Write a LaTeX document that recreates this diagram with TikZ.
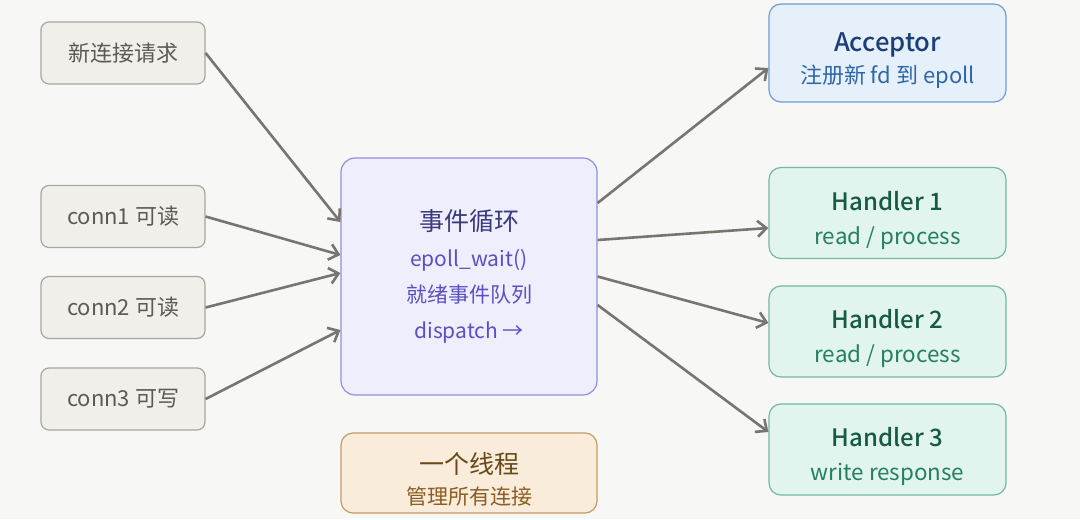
\documentclass[tikz,border=0pt]{standalone}
\usepackage{fontspec}
\setmainfont{Noto Sans CJK SC}[BoldFont={Noto Sans CJK SC Medium}]
\usetikzlibrary{arrows.meta}

\definecolor{bgpaper}{HTML}{F7F7F5}
\definecolor{srcfill}{HTML}{F1EFE9}
\definecolor{srcline}{HTML}{A9A69E}
\definecolor{srctext}{HTML}{5B5A55}
\definecolor{loopfill}{HTML}{EEEEFC}
\definecolor{loopline}{HTML}{9590DC}
\definecolor{looptitle}{HTML}{3C3A7E}
\definecolor{looptext}{HTML}{5A50C2}
\definecolor{thrfill}{HTML}{F9ECDA}
\definecolor{thrline}{HTML}{C29C62}
\definecolor{thrtitle}{HTML}{6A4818}
\definecolor{thrtext}{HTML}{8C5C22}
\definecolor{accfill}{HTML}{E6F0FB}
\definecolor{accline}{HTML}{6C9DD3}
\definecolor{acctitle}{HTML}{1B3F76}
\definecolor{acctext}{HTML}{2F66AA}
\definecolor{hdlfill}{HTML}{E2F4EE}
\definecolor{hdlline}{HTML}{72B9A1}
\definecolor{hdltitle}{HTML}{155A45}
\definecolor{hdltext}{HTML}{24805F}
\definecolor{linkgray}{HTML}{77756F}

% pushes a two-line block a little down in its box
\newcommand{\tstrut}{\rule{0pt}{17pt}}

\begin{document}
\begin{tikzpicture}[x=0.5pt, y=-0.5pt,
  box/.style={draw, line width=0.6pt, align=center, inner sep=0pt},
  srcbox/.style={box, rounded corners=4pt, fill=srcfill, draw=srcline, text=srctext,
    minimum width=82pt, minimum height=31pt, font=\fontsize{11}{13}\selectfont},
  loopbox/.style={box, rounded corners=7pt, fill=loopfill, draw=loopline, text=looptext,
    minimum width=128pt, minimum height=118.5pt, font=\fontsize{10.5}{18}\selectfont},
  thrbox/.style={box, rounded corners=6pt, fill=thrfill, draw=thrline, text=thrtext,
    minimum width=128pt, minimum height=40pt, font=\fontsize{10.5}{15.5}\selectfont},
  accbox/.style={box, rounded corners=6pt, fill=accfill, draw=accline, text=acctext,
    minimum width=118.5pt, minimum height=49pt, font=\fontsize{11}{16}\selectfont},
  hdlbox/.style={box, rounded corners=6pt, fill=hdlfill, draw=hdlline, text=hdltext,
    minimum width=118.5pt, minimum height=45.5pt, font=\fontsize{11.2}{17}\selectfont},
  link/.style={-{Straight Barb[length=4.5pt,width=8pt]}, line width=1.3pt, draw=linkgray}]

  \fill[bgpaper] (0,0) rectangle (1080,519);
  \useasboundingbox (0,0) rectangle (1080,519);

  % sources
  \node[srcbox] (newconn) at (123,53) {新连接请求};
  \node[srcbox] (conn1) at (123,216.5) {conn1 可读};
  \node[srcbox] (conn2) at (123,307.5) {conn2 可读};
  \node[srcbox] (conn3) at (123,399) {conn3 可写};

  % event loop
  \node[loopbox] (loop) at (469,276.5)
    {{\fontsize{12.5}{18}\selectfont\color{looptitle}事件循环}\\
     epoll\_wait()\\ 就绪事件队列\\ dispatch →};
  \node[thrbox] (thread) at (469,473)
    {\tstrut{\fontsize{12.5}{15.5}\selectfont\color{thrtitle}一个线程}\\ 管理所有连接};

  % targets
  \node[accbox] (acceptor) at (887.5,53)
    {\tstrut{\fontsize{12.8}{16}\selectfont\bfseries\color{acctitle}Acceptor}\\ 注册新 fd 到 epoll};
  \node[hdlbox] (hdl1) at (887.5,213)
    {\tstrut{\fontsize{12}{17}\selectfont\bfseries\color{hdltitle}Handler 1}\\ read / process};
  \node[hdlbox] (hdl2) at (887.5,331.5)
    {\tstrut{\fontsize{12}{17}\selectfont\bfseries\color{hdltitle}Handler 2}\\ read / process};
  \node[hdlbox] (hdl3) at (887.5,449.5)
    {\tstrut{\fontsize{12}{17}\selectfont\bfseries\color{hdltitle}Handler 3}\\ write response};

  \draw[link] (newconn.east) -- ([yshift=27.25pt]loop.west);
  \draw[link] (conn1.east) -- ([yshift=10.75pt]loop.west);
  \draw[link] (conn2.east) -- ([yshift=1.75pt]loop.west);
  \draw[link] (conn3.east) -- ([yshift=-26.75pt]loop.west);

  \draw[link] ([yshift=36.75pt]loop.east) -- ([yshift=-7.5pt]acceptor.west);
  \draw[link] ([yshift=18.25pt]loop.east) -- ([yshift=-7.5pt]hdl1.west);
  \draw[link] (loop.east) -- ([yshift=4.25pt]hdl2.west);
  \draw[link] ([yshift=-14.25pt]loop.east) -- ([yshift=8.75pt]hdl3.west);
\end{tikzpicture}
\end{document}
